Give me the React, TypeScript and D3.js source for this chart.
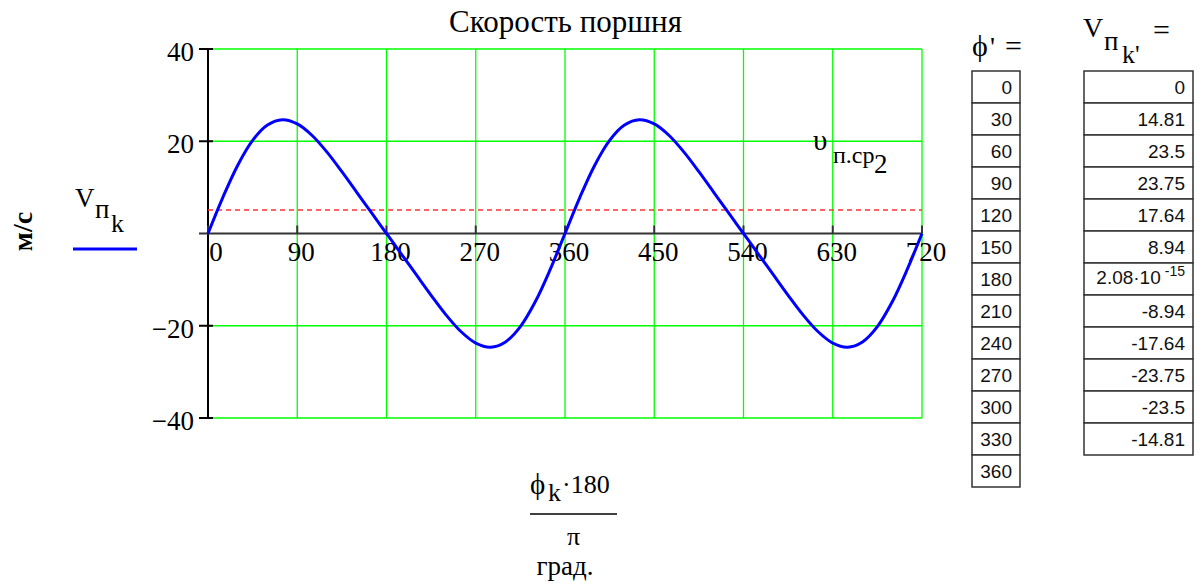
import React from "react";
import * as d3 from "d3";

// ---- data ----
const xTickValues = [0, 90, 180, 270, 360, 450, 540, 630, 720];
const yTickValues = [-40, -20, 20, 40];
const curveDeg = [
  0, 15, 30, 45, 60, 75, 90, 105, 120, 135, 150, 165, 180, 195, 210, 225, 240, 255, 270, 285, 300, 315, 330, 345, 360,
  375, 390, 405, 420, 435, 450, 465, 480, 495, 510, 525, 540, 555, 570, 585, 600, 615, 630, 645, 660, 675, 690, 705, 720,
];
const curveV = [
  0, 7.84, 14.81, 20.18, 23.5, 24.64, 23.75, 21.25, 17.64, 13.4, 8.94, 4.45, 0, -4.45, -8.94, -13.4, -17.64, -21.25, -23.75, -24.64, -23.5, -20.18, -14.81, -7.84, 0,
  7.84, 14.81, 20.18, 23.5, 24.64, 23.75, 21.25, 17.64, 13.4, 8.94, 4.45, 0, -4.45, -8.94, -13.4, -17.64, -21.25, -23.75, -24.64, -23.5, -20.18, -14.81, -7.84, 0,
];
const vMean = 5.1;
const phiTable = [0, 30, 60, 90, 120, 150, 180, 210, 240, 270, 300, 330, 360];
const vTable = [0, 14.81, 23.5, 23.75, 17.64, 8.94, 2.08e-15, -8.94, -17.64, -23.75, -23.5, -14.81];

const SERIF = "'Liberation Serif', 'Times New Roman', serif";
const SANS = "'Liberation Sans', Arial, sans-serif";

function fmtCell(v: number) {
  if (v !== 0 && Math.abs(v) < 1e-6) {
    const e = Math.floor(Math.log10(Math.abs(v)));
    const m = v / Math.pow(10, e);
    return { main: `${m.toFixed(2)}·10`, exp: `${e}` };
  }
  return { main: `${v}`, exp: "" };
}

export default function App() {
  const x = d3.scaleLinear().domain([0, 720]).range([208, 922]);
  const y = d3.scaleLinear().domain([-40, 40]).range([418, 49]);
  const line = d3
    .line<number>()
    .x((_, i) => x(curveDeg[i]))
    .y((d) => y(d))
    .curve(d3.curveCatmullRom);
  const green = "#00ff00";
  const axisCol = "#333";
  const rowH = 32;
  const tTop = 71;
  const c1 = [972, 1020];
  const c2 = [1084, 1193];

  return (
    <svg
      width={1203}
      height={584}
      style={{ position: "absolute", left: 0, top: 0, background: "#fff" }}
    >
      {/* title */}
      <text x={565.5} y={32} fontFamily={SERIF} fontSize={31} textAnchor="middle" fill="#000">
        Скорость поршня
      </text>

      {/* grid */}
      {xTickValues
        .filter((t) => t !== 0)
        .map((t) => (
          <line key={"gx" + t} x1={x(t)} x2={x(t)} y1={y(40)} y2={y(-40)} stroke={green} strokeWidth={1.3} />
        ))}
      {yTickValues.map((t) => (
        <line key={"gy" + t} x1={x(0)} x2={x(720)} y1={y(t)} y2={y(t)} stroke={green} strokeWidth={1.3} />
      ))}

      {/* axes */}
      <line x1={x(0)} x2={x(0)} y1={y(40)} y2={y(-40)} stroke="#000" strokeWidth={2} />
      <line x1={199} x2={x(720)} y1={y(0)} y2={y(0)} stroke={axisCol} strokeWidth={2} />
      {yTickValues.map((t) => (
        <line key={"ty" + t} x1={199} x2={213} y1={y(t)} y2={y(t)} stroke="#000" strokeWidth={2} />
      ))}
      {xTickValues.map((t) => (
        <line key={"tx" + t} x1={x(t)} x2={x(t)} y1={y(0) - 8} y2={y(0)} stroke={axisCol} strokeWidth={2} />
      ))}

      {/* tick labels */}
      {yTickValues.map((t) => (
        <text key={"ly" + t} x={194} y={y(t) + 12} fontFamily={SERIF} fontSize={27} textAnchor="end" fill="#000">
          {t < 0 ? "−" + Math.abs(t) : String(t)}
        </text>
      ))}
      {xTickValues.map((t) => (
        <text
          key={"lx" + t}
          x={x(t) + 4 + (t === 0 ? 4 : 0)}
          y={261}
          fontFamily={SERIF}
          fontSize={27}
          textAnchor="middle"
          fill="#000"
        >
          {t}
        </text>
      ))}

      {/* mean speed dashed line */}
      <line
        x1={x(0)}
        x2={x(720)}
        y1={y(vMean)}
        y2={y(vMean)}
        stroke="#ff3030"
        strokeWidth={1.5}
        strokeDasharray="5,4"
      />

      {/* curve */}
      <path d={line(curveV) || ""} fill="none" stroke="#0000ff" strokeWidth={3} />

      {/* υп.ср2 label */}
      <text fontFamily={SERIF} fill="#000">
        <tspan x={813} y={150} fontSize={29}>υ</tspan>
        <tspan x={833} y={163} fontSize={24}>п.ср</tspan>
        <tspan x={874} y={173} fontSize={27}>2</tspan>
      </text>

      {/* legend */}
      <text fontFamily={SERIF} fill="#000">
        <tspan x={75} y={207} fontSize={27}>V</tspan>
        <tspan x={95} y={218} fontSize={27}>п</tspan>
        <tspan x={111} y={232} fontSize={26}>k</tspan>
      </text>
      <line x1={73} x2={137} y1={249} y2={249} stroke="#0000ff" strokeWidth={3} />

      {/* y unit */}
      <text
        transform="translate(32,231.5) rotate(-90)"
        fontFamily={SERIF}
        fontSize={28}
        fontWeight="bold"
        textAnchor="middle"
        fill="#000"
      >
        м/с
      </text>

      {/* x-axis expression */}
      <text fontFamily={SERIF} fill="#000">
        <tspan x={530} y={494} fontSize={29}>ϕ</tspan>
        <tspan x={548} y={501} fontSize={26}>k</tspan>
        <tspan x={562} y={493} fontSize={26}>·180</tspan>
      </text>
      <line x1={530} x2={617} y1={514} y2={514} stroke="#000" strokeWidth={1.5} />
      <text x={573.5} y={545} fontFamily={SERIF} fontSize={26} textAnchor="middle" fill="#000">
        π
      </text>
      <text x={565} y={575} fontFamily={SERIF} fontSize={27} textAnchor="middle" fill="#000">
        град.
      </text>

      {/* table headers */}
      <text fontFamily={SERIF} fill="#000">
        <tspan x={972} y={56} fontSize={30}>ϕ</tspan>
        <tspan x={990} y={56} fontSize={28}>'</tspan>
        <tspan x={1005} y={56} fontSize={30}>=</tspan>
      </text>
      <text fontFamily={SERIF} fill="#000">
        <tspan x={1083} y={37} fontSize={28}>V</tspan>
        <tspan x={1104} y={50} fontSize={27}>п</tspan>
        <tspan x={1122} y={63} fontSize={26}>k'</tspan>
        <tspan x={1153} y={40} fontSize={30}>=</tspan>
      </text>

      {/* tables */}
      {phiTable.map((v, i) => (
        <g key={"p" + i}>
          <rect x={c1[0]} y={tTop + i * rowH} width={c1[1] - c1[0]} height={rowH} fill="#fff" stroke="#333" strokeWidth={1.5} />
          <text x={c1[1] - 8} y={tTop + i * rowH + 23} fontFamily={SANS} fontSize={19} textAnchor="end" fill="#111">
            {v}
          </text>
        </g>
      ))}
      {vTable.map((v, i) => {
        const f = fmtCell(v);
        return (
          <g key={"v" + i}>
            <rect x={c2[0]} y={tTop + i * rowH} width={c2[1] - c2[0]} height={rowH} fill="#fff" stroke="#333" strokeWidth={1.5} />
            {f.exp ? (
              <text x={c2[1] - 8} y={tTop + i * rowH + 21} fontFamily={SANS} textAnchor="end" fill="#111">
                <tspan fontSize={19}>{f.main}</tspan>
                <tspan fontSize={14} dx={4} dy={-8}>{f.exp}</tspan>
              </text>
            ) : (
              <text x={c2[1] - 8} y={tTop + i * rowH + 23} fontFamily={SANS} fontSize={19} textAnchor="end" fill="#111">
                {f.main}
              </text>
            )}
          </g>
        );
      })}
    </svg>
  );
}
